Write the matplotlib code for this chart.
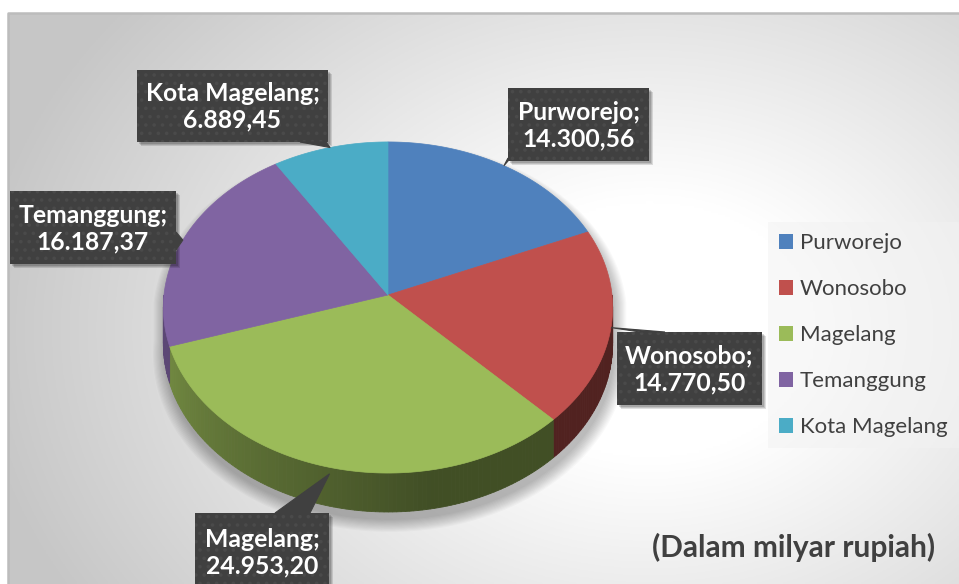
import matplotlib.pyplot as plt
import numpy as np
from matplotlib.patches import Polygon, Rectangle, Patch

# data
regions = ['Purworejo', 'Wonosobo', 'Magelang', 'Temanggung', 'Kota Magelang']
values = [14300.56, 14770.50, 24953.20, 16187.37, 6889.45]
colors = ['#4f81bd', '#c0504d', '#9bbb59', '#8064a2', '#4bacc6']
unit_note = '(Dalam milyar rupiah)'

# layout (pixels)
W, H = 959, 584
cx, cy = 388, 295
rx, ry = 224, 164.6
k = 0.0755          # perspective
depth = 36
boxes = {  # x0, y0, x1, y1 of label callouts
    'Purworejo': (508, 88, 649, 161),
    'Wonosobo': (617, 332, 762, 405),
    'Magelang': (195, 513, 329, 590),
    'Temanggung': (10, 191, 176, 264),
    'Kota Magelang': (137, 70, 328, 142),
}
box_col = '#404040'

plt.rcParams['font.family'] = ['Lato', 'DejaVu Sans']
plt.rcParams['hatch.linewidth'] = 1.4


def proj(theta, z=0.0):
    t = np.radians(theta)
    u, v = np.sin(t), -np.cos(t)
    s = 1.0 / (1.0 - k * v)
    return cx + rx * u * s, cy + ry * v * s + z * s


def fmt(v):
    return f'{v:,.2f}'.replace(',', 'X').replace('.', ',').replace('X', '.')


fig = plt.figure(figsize=(W / 100, H / 100), dpi=100)
ax = fig.add_axes([0, 0, 1, 1])
ax.set_xlim(0, W)
ax.set_ylim(H, 0)
ax.axis('off')

# background gradient
gx, gy = np.meshgrid(np.linspace(8, W, 400), np.linspace(13, H, 250))
d = np.sqrt(((gx - 650) / 560) ** 2 + ((gy - 330) / 430) ** 2)
g = 1 - 0.22 * np.clip((d - 0.3) / 0.9, 0, 1)
ax.imshow(np.dstack([g, g, g]), extent=(8, W, H, 13), aspect='auto', zorder=0)
ax.plot([8, 8, W], [H, 13, 13], color='#bcbcbc', lw=1.8, zorder=1)

# pie angles
total = sum(values)
fr = np.cumsum([0] + values) / total * 360
starts, ends = fr[:-1], fr[1:]
mids = (starts + ends) / 2

# shadow
tt1 = np.linspace(-90, 90, 90)
tt2 = np.linspace(90, 270, 90)
sil = np.array([proj(t) for t in tt1] + [proj(t, depth) for t in tt2])
for i in range(12):
    sc = 1.0 + 0.005 * i
    pts = np.column_stack([cx + (sil[:, 0] - cx) * sc + 2,
                           cy + 8 + (sil[:, 1] - cy) * sc])
    ax.add_patch(Polygon(pts, closed=True, color='black', alpha=0.022, lw=0, zorder=2))

# sides
for a0, a1, c in zip(starts, ends, colors):
    lo, hi = max(a0, 90), min(a1, 270)
    if hi <= lo:
        continue
    rgb = np.array(plt.matplotlib.colors.to_rgb(c))
    steps = np.linspace(lo, hi, max(2, int(hi - lo) + 1))
    for t0, t1 in zip(steps[:-1], steps[1:]):
        tm = (t0 + t1) / 2
        f = 0.42 + 0.3 * np.clip((tm - 170) / 80, 0, 1)
        pts = [proj(t0), proj(t1), proj(t1, depth), proj(t0, depth)]
        ax.add_patch(Polygon(pts, closed=True, color=rgb * f, lw=0.6, zorder=3))

# top faces
for a0, a1, c in zip(starts, ends, colors):
    ts = np.linspace(a0, a1, max(3, int(a1 - a0) * 2))
    pts = [(cx, cy)] + [proj(t) for t in ts]
    ax.add_patch(Polygon(pts, closed=True, facecolor=c, edgecolor=c, lw=0.5, zorder=4))

# legend
handles = [Patch(facecolor=c, edgecolor='none') for c in colors]
leg = ax.legend(handles, regions, loc='upper left', bbox_to_anchor=(768, 222),
                bbox_transform=ax.transData, fontsize=16, frameon=True,
                labelspacing=1.17, handlelength=0.63, handleheight=0.63,
                handletextpad=0.3, borderpad=0.5, fancybox=False, borderaxespad=0)
leg.get_frame().set_facecolor('#f2f2f2')
leg.get_frame().set_alpha(0.5)
leg.get_frame().set_edgecolor('none')
for t in leg.get_texts():
    t.set_color('#404040')


# callout labels
def callout(name, value, tip):
    x0, y0, x1, y1 = boxes[name]
    for o, a in [(4, 0.12), (3, 0.12), (2, 0.15)]:
        ax.add_patch(Rectangle((x0 + o, y0 + o), x1 - x0, y1 - y0, color='black',
                               alpha=a, lw=0, zorder=5))
    ax.add_patch(Rectangle((x0, y0), x1 - x0, y1 - y0, facecolor=box_col,
                           edgecolor='#4a4a4a', hatch='..', lw=0, zorder=6))
    if tip is not None:
        ax.add_patch(Polygon(tip, closed=True, facecolor=box_col, edgecolor=box_col,
                             lw=0.8, zorder=6))
    ax.text((x0 + x1) / 2, (y0 + y1) / 2 + 1, f'{name};\n{fmt(value)}', color='white',
            fontsize=17.8, fontweight='bold', ha='center', va='center',
            linespacing=1.2, zorder=7)


tips = {}
for name, m in zip(regions, mids):
    tips[name] = proj(m)
tips_poly = {
    'Purworejo': [(508, 158), (508, 161), tips['Purworejo']],
    'Wonosobo': [(640, 332), (665, 332), tips['Wonosobo']],
    'Magelang': [(275, 513), (310, 513), proj(mids[2], 6)],
    'Temanggung': [(176, 232), (176, 250), tips['Temanggung']],
    'Kota Magelang': [(300, 142), (326, 142), tips['Kota Magelang']],
}
for name, val in zip(regions, values):
    callout(name, val, tips_poly[name])

ax.text(935, 547, unit_note, fontsize=21.5, fontweight='bold', color='#404040',
        ha='right', va='center', zorder=7)

fig.savefig('out.png', dpi=100)
